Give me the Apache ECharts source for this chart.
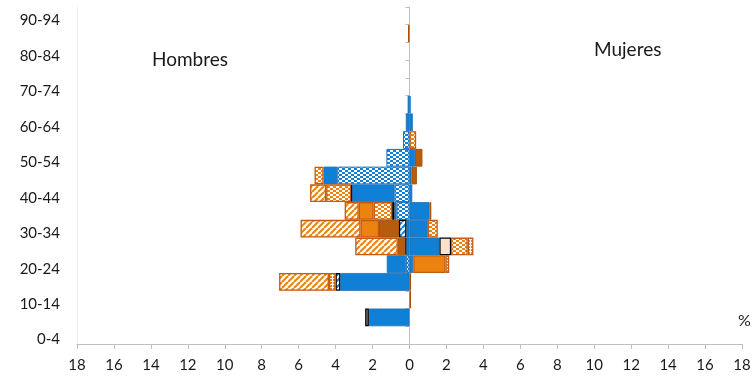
<!DOCTYPE html>
<html>
<head>
<meta charset="utf-8">
<script src="https://cdn.jsdelivr.net/npm/echarts@6/dist/echarts.min.js"></script>
<style>
  html, body { margin: 0; padding: 0; background: #ffffff; }
  #chart { width: 756px; height: 381px; }
</style>
</head>
<body>
<div id="chart"></div>
<script>
// Age groups, bottom to top
const ageGroups = ['0-4','5-9','10-14','15-19','20-24','25-29','30-34','35-39','40-44','45-49',
  '50-54','55-59','60-64','65-69','70-74','75-79','80-84','85-89','90-94'];

// X axis ticks (percent, both sides)
const xMin = -18, xMax = 18, xStep = 2;

// Hombres (%), stacked outward from zero in this order
const hombresAzulPunteado   = [0, 0,   0,    0,    0.18, 0,    0,    0.70, 0.81, 3.91, 1.25, 0.35, 0,   0,   0, 0, 0, 0,    0];
const hombresAzul           = [0, 2.2, 0,    3.75, 1.05, 0.18, 0.17, 0.12, 2.30, 0.74, 0,    0,    0.2, 0.1, 0, 0, 0, 0,    0];
const hombresAzulRayado     = [0, 0,   0,    0.25, 0,    0.05, 0.40, 0.12, 0.05, 0,    0,    0,    0,   0,   0, 0, 0, 0,    0];
const hombresGris           = [0, 0.2, 0,    0,    0,    0,    0,    0,    0,    0,    0,    0,    0,   0,   0, 0, 0, 0,    0];
const hombresNaranjaPunteado= [0, 0,   0,    0,    0,    0,    0,    1.00, 1.35, 0.49, 0,    0,    0,   0,   0, 0, 0, 0,    0];
const hombresMarron         = [0, 0,   0,    0,    0,    0.40, 1.08, 0,    0,    0,    0,    0,    0,   0,   0, 0, 0, 0.08, 0];
const hombresNaranja        = [0, 0,   0,    0,    0,    0,    1.00, 0.81, 0,    0,    0,    0,    0,   0,   0, 0, 0, 0,    0];
const hombresNaranjaReja    = [0, 0,   0,    0.36, 0,    0,    0,    0,    0,    0,    0,    0,    0,   0,   0, 0, 0, 0,    0];
const hombresNaranjaRayado  = [0, 0,   0,    2.70, 0,    2.31, 3.25, 0.76, 0.87, 0,    0,    0,    0,   0,   0, 0, 0, 0,    0];

// Mujeres (%), stacked outward from zero in this order
const mujeresAzul           = [0, 0,   0,    0,    0.20, 1.62, 0.99, 1.08, 0.15, 0.10, 0.30, 0,    0.18, 0.06, 0, 0, 0, 0, 0];
const mujeresMelocoton      = [0, 0,   0,    0,    0,    0.63, 0,    0,    0,    0,    0,    0,    0,    0,    0, 0, 0, 0, 0];
const mujeresNaranjaPunteado= [0, 0,   0,    0,    0,    0.90, 0.54, 0,    0,    0,    0,    0.36, 0,    0,    0, 0, 0, 0, 0];
const mujeresMarron         = [0, 0,   0.08, 0.08, 0,    0,    0,    0.10, 0,    0.30, 0.40, 0,    0,    0,    0, 0, 0, 0, 0];
const mujeresNaranja        = [0, 0,   0,    0,    1.75, 0,    0,    0,    0,    0,    0,    0,    0,    0,    0, 0, 0, 0, 0];
const mujeresNaranjaReja    = [0, 0,   0,    0,    0.20, 0.31, 0,    0,    0,    0,    0,    0,    0,    0,    0, 0, 0, 0, 0];

// Palette
const AZUL = '#0f80d5', AZUL_BORDE = '#1f6fb8';
const NARANJA = '#eb830e', NARANJA_BORDE = '#c55a11';
const MARRON = '#b65c0a';

// Fill patterns drawn on small tiles
function tile(w, h, draw) {
  const c = document.createElement('canvas');
  c.width = w; c.height = h;
  const ctx = c.getContext('2d');
  draw(ctx, w, h);
  return { image: c, repeat: 'repeat' };
}
function dots(color) {
  return tile(6, 4, (ctx) => {
    ctx.fillStyle = '#ffffff'; ctx.fillRect(0, 0, 6, 4);
    ctx.fillStyle = color;
    ctx.fillRect(0, 0, 3, 2);
    ctx.fillRect(3, 2, 3, 2);
  });
}
function stripes(color) {
  return tile(6, 6, (ctx, w, h) => {
    ctx.fillStyle = '#ffffff'; ctx.fillRect(0, 0, w, h);
    ctx.strokeStyle = color; ctx.lineWidth = 2;
    for (let i = -w; i <= w; i += w) {
      ctx.beginPath(); ctx.moveTo(i, h); ctx.lineTo(i + w, 0); ctx.stroke();
    }
  });
}
function grate(color) {
  return tile(3, 3, (ctx) => {
    ctx.fillStyle = '#ffffff'; ctx.fillRect(0, 0, 3, 3);
    ctx.fillStyle = color; ctx.fillRect(0, 0, 2, 2);
  });
}

const estilos = {
  azulPunteado:    { color: dots(AZUL), borderColor: AZUL_BORDE, borderWidth: 1 },
  azul:            { color: AZUL, borderColor: AZUL_BORDE, borderWidth: 0.8 },
  azulRayado:      { color: stripes(AZUL), borderColor: '#000000', borderWidth: 1.2 },
  gris:            { color: '#7f7f7f', borderColor: '#000000', borderWidth: 1.2 },
  melocoton:       { color: '#fde2cb', borderColor: '#000000', borderWidth: 1.2 },
  naranjaPunteado: { color: dots(NARANJA), borderColor: NARANJA_BORDE, borderWidth: 1.3 },
  marron:          { color: MARRON, borderColor: '#a85005', borderWidth: 1 },
  naranja:         { color: NARANJA, borderColor: NARANJA_BORDE, borderWidth: 1.3 },
  naranjaReja:     { color: grate(NARANJA), borderColor: NARANJA_BORDE, borderWidth: 1.3 },
  naranjaRayado:   { color: stripes(NARANJA), borderColor: NARANJA_BORDE, borderWidth: 1.3 }
};

function serie(nombre, valores, lado, estilo) {
  return {
    type: 'bar',
    name: nombre,
    stack: lado,
    barWidth: '100%',
    barGap: '-100%',
    silent: true,
    itemStyle: estilo,
    data: valores.map(v => v ? (lado === 'hombres' ? -v : v) : '-')
  };
}

const series = [
  serie('H azul punteado', hombresAzulPunteado, 'hombres', estilos.azulPunteado),
  serie('H azul', hombresAzul, 'hombres', estilos.azul),
  serie('H azul rayado', hombresAzulRayado, 'hombres', estilos.azulRayado),
  serie('H gris', hombresGris, 'hombres', estilos.gris),
  serie('H naranja punteado', hombresNaranjaPunteado, 'hombres', estilos.naranjaPunteado),
  serie('H marrón', hombresMarron, 'hombres', estilos.marron),
  serie('H naranja', hombresNaranja, 'hombres', estilos.naranja),
  serie('H naranja reja', hombresNaranjaReja, 'hombres', estilos.naranjaReja),
  serie('H naranja rayado', hombresNaranjaRayado, 'hombres', estilos.naranjaRayado),
  serie('M azul', mujeresAzul, 'mujeres', estilos.azul),
  serie('M melocotón', mujeresMelocoton, 'mujeres', estilos.melocoton),
  serie('M naranja punteado', mujeresNaranjaPunteado, 'mujeres', estilos.naranjaPunteado),
  serie('M marrón', mujeresMarron, 'mujeres', estilos.marron),
  serie('M naranja', mujeresNaranja, 'mujeres', estilos.naranja),
  serie('M naranja reja', mujeresNaranjaReja, 'mujeres', estilos.naranjaReja)
];

const FONT = 'Lato, "Open Sans", sans-serif';
const chart = echarts.init(document.getElementById('chart'), null, { renderer: 'canvas' });
chart.setOption({
  animation: false,
  backgroundColor: '#ffffff',
  grid: { left: 77, right: 14, top: 7, bottom: 37, containLabel: false },
  xAxis: {
    type: 'value',
    min: xMin, max: xMax, interval: xStep,
    axisLine: { show: true, lineStyle: { color: '#bfbfbf', width: 1 } },
    axisTick: { show: true, length: 5, lineStyle: { color: '#bfbfbf' } },
    splitLine: { show: false },
    axisLabel: {
      color: '#1a1a1a', fontSize: 15, fontFamily: FONT, margin: 14,
      formatter: v => String(Math.abs(v))
    }
  },
  yAxis: [
    {
      type: 'category', data: ageGroups, position: 'left',
      axisLine: { show: true, onZero: false, lineStyle: { color: '#f0f0f0' } },
      axisTick: { show: false },
      axisLabel: {
        interval: 1, color: '#1a1a1a', fontSize: 15, fontFamily: FONT, margin: 17,
        verticalAlign: 'top', lineHeight: 9
      }
    },
    {
      type: 'category', data: ageGroups, position: 'left',
      axisLine: { show: true, onZero: true, lineStyle: { color: '#bfbfbf', width: 1 } },
      axisTick: { show: true, length: 4, lineStyle: { color: '#bfbfbf' } },
      axisLabel: { show: false }
    }
  ],
  graphic: [
    { type: 'text', left: 152, top: 50, style: { text: 'Hombres', font: '19px ' + FONT, fill: '#1a1a1a' } },
    { type: 'text', left: 594, top: 40, style: { text: 'Mujeres', font: '19px ' + FONT, fill: '#1a1a1a' } },
    { type: 'text', left: 738, top: 313, style: { text: '%', font: '16px ' + FONT, fill: '#1a1a1a' } }
  ],
  series: series
});
</script>
</body>
</html>
